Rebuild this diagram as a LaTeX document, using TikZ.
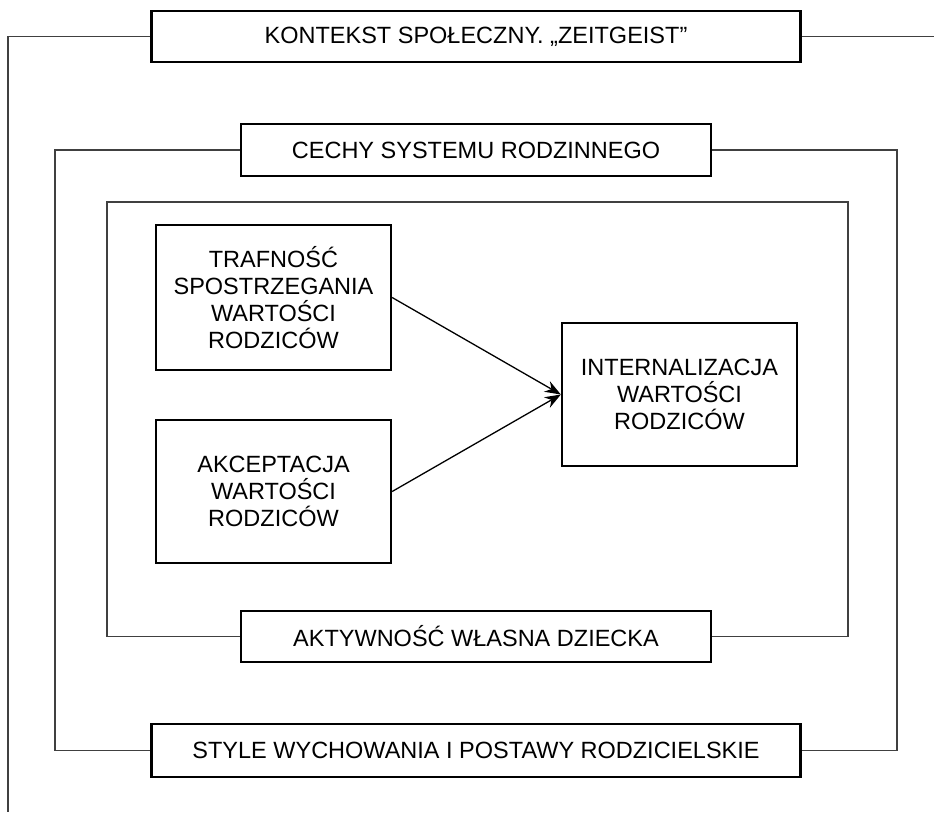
\documentclass[tikz,border=0pt]{standalone}
\usepackage{fontspec}
\setmainfont{Liberation Sans}
\usepackage{tikz}
\usetikzlibrary{positioning,arrows.meta}
\tikzset{
  every node/.style={
    font=\fontsize{23.5}{27}\selectfont,
    align=center,
    inner sep=0pt
  },
  framebox/.style={
    draw=black,
    line width=2.3pt,
    fill=white
  },
  link/.style={
    draw=black!75,
    line width=1.6pt
  }
}

\begin{document}
\begin{tikzpicture}
      \useasboundingbox (0,0) rectangle (934pt,-812pt);
      \node [framebox, minimum width=649pt, minimum height=51pt] (Context) at (476pt,-36.5pt)
      {KONTEKST SPOŁECZNY. „ZEITGEIST”};
      \node [framebox, on grid, below=113.5pt of Context, minimum width=470pt, minimum height=52pt] (Family)
      {CECHY SYSTEMU RODZINNEGO};
      \node [framebox, on grid, below=486.5pt of Family, minimum width=470pt, minimum height=51pt] (Activity)
      {AKTYWNOŚĆ WŁASNA DZIECKA};
      \node [framebox, on grid, below=114pt of Activity, minimum width=649pt, minimum height=53pt] (Styles)
      {STYLE WYCHOWANIA I POSTAWY RODZICIELSKIE};

      \node [framebox, on grid, below left=147.5pt and 202.5pt of Family, minimum width=235pt, minimum height=145pt] (Accuracy)
      {TRAFNOŚĆ\\SPOSTRZEGANIA\\WARTOŚCI\\RODZICÓW};
      \node [framebox, on grid, below=194pt of Accuracy, minimum width=235pt, minimum height=143pt] (Acceptance)
      {AKCEPTACJA\\WARTOŚCI\\RODZICÓW};
      \node [framebox, on grid, below right=97pt and 406pt of Accuracy, minimum width=235pt, minimum height=143pt] (Internal)
      {INTERNALIZACJA\\WARTOŚCI\\RODZICÓW};

      \coordinate (OuterEnd) at (8pt,-812pt);
      \coordinate (RightEnd) at (934pt,-36.5pt);
      \coordinate (FrameSW) at (55pt,-750.5pt);
      \coordinate (FrameSE) at (897pt,-750.5pt);
      \coordinate (InnerNW) at (107pt,-202pt);
      \coordinate (InnerNE) at (848pt,-202pt);

      \draw [link] (Context.west) -| (OuterEnd);
      \draw [link] (Context.east) -- (RightEnd);
      \draw [link] (Family.west) -| (FrameSW) -- (Styles.west);
      \draw [link] (Family.east) -| (FrameSE) -- (Styles.east);
      \draw [link] (Activity.west) -| (InnerNW) -- (InnerNE) |- (Activity.east);

      \draw [line width=1.3pt, -{Stealth[length=16pt,width=12pt]}] (Accuracy.east) to (Internal.west);
      \draw [line width=1.3pt, -{Stealth[length=16pt,width=12pt]}] (Acceptance.east) to (Internal.west);
    \end{tikzpicture}
\end{document}
